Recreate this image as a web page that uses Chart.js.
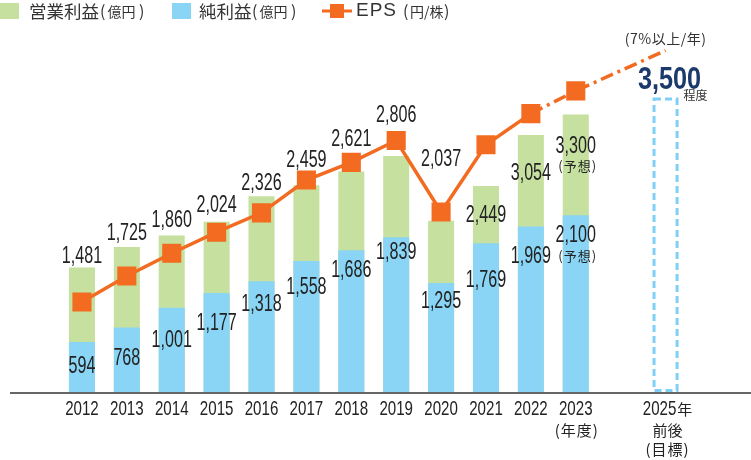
<!DOCTYPE html>
<html lang="ja">
<head>
<meta charset="utf-8">
<script src="https://cdn.jsdelivr.net/npm/chart.js@4"></script>
<style>
  html, body { margin: 0; padding: 0; background: #fff; }
  #wrap { position: relative; width: 751px; height: 460px; }
</style>
</head>
<body>
<div id="wrap"><canvas id="chart"></canvas></div>
<script>
// 年度 (2024 is an empty slot before the 2025 target)
const years = ['2012', '2013', '2014', '2015', '2016', '2017', '2018', '2019', '2020', '2021', '2022', '2023', '', '2025'];
const opProfit = [1481, 1725, 1860, 2024, 2326, 2459, 2621, 2806, 2037, 2449, 3054, 3300]; // 営業利益(億円)
const netIncome = [594, 768, 1001, 1177, 1318, 1558, 1686, 1839, 1295, 1769, 1969, 2100]; // 純利益(億円)
const eps = [107, 138, 165, 190, 213, 252, 273, 299, 214, 294, 331, 358]; // EPS(円/株)
const opTarget = 3500;   // 2025年前後 目標
const epsTarget = 406;   // end of the 7%/年 line
const forecastYears = ['2023'];

// label nudges (px, relative to the bar top) as placed in the original
const opLabelDy = [-11, -13, -15, -16, -13, -25, -32, -40, -61, 30, 39, 32];
const niLabelDy = [25, 31, 33, 31, 24, 27, 20, 15, 19, 37, 30, 20];

const GREEN = '#c6e0a0';
const BLUE = '#8ad5f5';
const ORANGE = '#f26b21';
const NAVY = '#1b3a6b';
const SANS = '"Liberation Sans", Arial, sans-serif';
const JP = '"Noto Sans CJK JP", sans-serif';

const pad = (arr, n) => arr.concat(Array(n - arr.length).fill(null));
const fmt = v => v.toLocaleString('en-US');

// text helper; sx squeezes the glyphs to get the condensed look of the original
function txt(ctx, s, x, y, font, color, align, sx, ls) {
  ctx.save();
  ctx.font = font;
  ctx.letterSpacing = ls || '0px';
  ctx.fillStyle = color || '#222';
  ctx.textAlign = align || 'center';
  ctx.textBaseline = 'middle';
  ctx.translate(x, y);
  ctx.scale(sx || 1, 1);
  ctx.fillText(s, 0, 0);
  ctx.restore();
}
function width(ctx, s, font, sx) {
  ctx.save();
  ctx.font = font;
  const w = ctx.measureText(s).width * (sx || 1);
  ctx.restore();
  return w;
}

const VAL = '23px ' + SANS;
const VSX = 0.7;
const YR = '21px ' + SANS;
const YSX = 0.72;

const decor = {
  id: 'decor',
  afterDatasetsDraw(chart) {
    const ctx = chart.ctx;
    const xs = chart.scales.x;
    const ys = chart.scales.y;
    ctx.save();

    // target bar, dashed outline
    const t = chart.getDatasetMeta(3).data[13];
    ctx.strokeStyle = '#7fd0f7';
    ctx.lineWidth = 3;
    ctx.setLineDash([7, 4]);
    ctx.strokeRect(t.x - t.width / 2 + 1.5, t.y + 1.5, t.width - 3, t.base - t.y - 3);
    ctx.setLineDash([]);
    txt(ctx, fmt(opTarget), t.x + 4, t.y - 17, 'bold 32px ' + SANS, NAVY, 'center', 0.79);
    txt(ctx, '程度', t.x + 30, t.y - 2, '12px ' + JP, '#333');

    const e = chart.getDatasetMeta(0).data[13];
    txt(ctx, '(7%以上/年)', e.x, e.y - 12, '14px ' + JP, '#333', 'center', 1, '0.5px');

    // value labels
    const mOp = chart.getDatasetMeta(2);
    const mNi = chart.getDatasetMeta(1);
    opProfit.forEach((v, i) => {
      const b = mOp.data[i];
      const y = b.y + opLabelDy[i];
      txt(ctx, fmt(v), b.x, y, VAL, '#222', 'center', VSX);
      if (forecastYears.includes(years[i])) txt(ctx, '(予想)', b.x + 2, y + 20, '13px ' + JP, '#222', 'center', 1, '1px');
    });
    netIncome.forEach((v, i) => {
      const b = mNi.data[i];
      const y = b.y + niLabelDy[i];
      txt(ctx, fmt(v), b.x, y, VAL, '#222', 'center', VSX);
      if (forecastYears.includes(years[i])) txt(ctx, '(予想)', b.x + 2, y + 21, '13px ' + JP, '#222', 'center', 1, '1px');
    });

    // baseline
    const y0 = ys.getPixelForValue(0) + 1;
    ctx.strokeStyle = '#666';
    ctx.lineWidth = 2;
    ctx.beginPath();
    ctx.moveTo(10, y0);
    ctx.lineTo(chart.width, y0);
    ctx.stroke();

    // category labels
    years.forEach((yr, i) => {
      if (!yr) return;
      const x = xs.getPixelForValue(i);
      if (yr === '2025') {
        const w1 = width(ctx, yr, YR, YSX);
        const w2 = width(ctx, '年', '15px ' + JP);
        const left = x + 2 - (w1 + w2 + 1) / 2;
        txt(ctx, yr, left, y0 + 16, YR, '#222', 'left', YSX);
        txt(ctx, '年', left + w1 + 1, y0 + 16, '15px ' + JP, '#222', 'left');
        txt(ctx, '前後', x + 2, y0 + 37, '15px ' + JP, '#222');
        txt(ctx, '(目標)', x + 2, y0 + 56, '15px ' + JP, '#222', 'center', 1, '1px');
      } else {
        txt(ctx, yr, x, y0 + 16, YR, '#222', 'center', YSX);
      }
      if (yr === '2023') txt(ctx, '(年度)', x + 1, y0 + 37, '15px ' + JP, '#222', 'center', 1, '1px');
    });

    // legend
    ctx.fillStyle = GREEN;
    ctx.fillRect(0, 3, 19, 16);
    txt(ctx, '営業利益', 29, 11, '17.5px ' + JP, '#333', 'left');
    txt(ctx, '(', 100, 11, '16px ' + JP, '#333', 'left');
    txt(ctx, '億円', 107.5, 12, '14px ' + JP, '#333', 'left');
    txt(ctx, ')', 139, 11, '16px ' + JP, '#333', 'left');
    ctx.fillStyle = BLUE;
    ctx.fillRect(172, 3, 19, 16);
    txt(ctx, '純利益', 199, 11, '17.5px ' + JP, '#333', 'left');
    txt(ctx, '(', 252, 11, '16px ' + JP, '#333', 'left');
    txt(ctx, '億円', 259.5, 12, '14px ' + JP, '#333', 'left');
    txt(ctx, ')', 291, 11, '16px ' + JP, '#333', 'left');
    ctx.strokeStyle = ORANGE;
    ctx.lineWidth = 3;
    ctx.beginPath();
    ctx.moveTo(322, 11);
    ctx.lineTo(352, 11);
    ctx.stroke();
    ctx.fillStyle = ORANGE;
    ctx.fillRect(330, 4, 14, 14);
    txt(ctx, 'EPS', 356, 11, '19px ' + SANS, '#333', 'left', 1, '1px');
    txt(ctx, '(', 403, 11, '16px ' + JP, '#333', 'left');
    txt(ctx, '円/株', 410, 12, '14px ' + JP, '#333', 'left');
    txt(ctx, ')', 444, 11, '16px ' + JP, '#333', 'left');

    ctx.restore();
  }
};

new Chart(document.getElementById('chart'), {
  data: {
    labels: years,
    datasets: [
      {
        type: 'line',
        label: 'EPS（円/株）',
        data: pad(eps, 13).concat([epsTarget]),
        yAxisID: 'y2',
        order: 0,
        borderColor: ORANGE,
        backgroundColor: ORANGE,
        borderWidth: 3.5,
        pointStyle: 'rect',
        pointRadius: c => (years[c.dataIndex] === '2025' ? 0 : 13.5),
        pointBorderWidth: 0,
        spanGaps: true,
        segment: {
          borderDash: c => (c.p1DataIndex >= years.indexOf(forecastYears[0]) ? [13, 5, 3, 5] : undefined)
        }
      },
      {
        type: 'bar',
        label: '純利益（億円）',
        data: pad(netIncome, 14),
        backgroundColor: BLUE,
        grouped: false,
        order: 1
      },
      {
        type: 'bar',
        label: '営業利益（億円）',
        data: pad(opProfit, 14),
        backgroundColor: GREEN,
        grouped: false,
        order: 2
      },
      {
        type: 'bar',
        label: '目標',
        data: pad([], 13).concat([opTarget]),
        backgroundColor: 'rgba(0,0,0,0)',
        grouped: false,
        order: 3
      }
    ]
  },
  options: {
    responsive: true,
    maintainAspectRatio: false,
    animation: false,
    layout: { padding: { left: 59.5, right: 63, top: 7, bottom: 68 } },
    datasets: { bar: { categoryPercentage: 1, barPercentage: 0.58 } },
    scales: {
      x: { display: false },
      y: { display: false, min: 0, max: 4500 },
      y2: { display: false, min: 0, max: 450 }
    },
    plugins: { legend: { display: false }, tooltip: { enabled: false } }
  },
  plugins: [decor]
});
</script>
</body>
</html>
